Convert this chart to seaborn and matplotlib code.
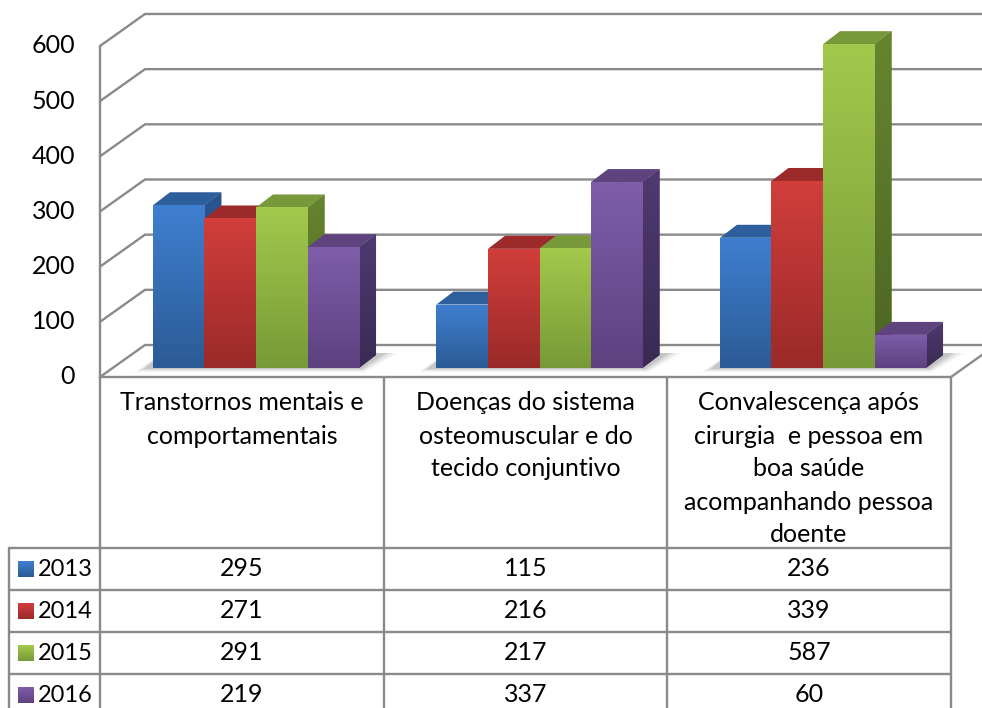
import numpy as np
import pandas as pd
import matplotlib
matplotlib.use("Agg")
import matplotlib.pyplot as plt
from matplotlib.patches import Polygon
from matplotlib.colors import LinearSegmentedColormap
import seaborn as sns

# ---- data -------------------------------------------------------------
categories = [
    "Transtornos mentais e\ncomportamentais",
    "Doenças do sistema\nosteomuscular e do\ntecido conjuntivo",
    "Convalescença após\ncirurgia  e pessoa em\nboa saúde\nacompanhando pessoa\ndoente",
]
years = ["2013", "2014", "2015", "2016"]
v2013 = [295, 115, 236]
v2014 = [271, 216, 339]
v2015 = [291, 217, 587]
v2016 = [219, 337, 60]
y_ticks = [0, 100, 200, 300, 400, 500, 600]

series = {"2013": v2013, "2014": v2014, "2015": v2015, "2016": v2016}
df = pd.DataFrame(
    [(c, y, v) for y in years for c, v in zip(categories, series[y])],
    columns=["categoria", "ano", "valor"],
)

# ---- styling ----------------------------------------------------------
front_top = {"2013": "#3f7fd0", "2014": "#d13e3b", "2015": "#a2c94c", "2016": "#7f5daa"}
front_bot = {"2013": "#2c5b96", "2014": "#9a2a29", "2015": "#779a37", "2016": "#5d4180"}
top_face = {"2013": "#2d5f9d", "2014": "#9c2a2a", "2015": "#78993a", "2016": "#5f437f"}
side_top = {"2013": "#2a5690", "2014": "#8a2625", "2015": "#67852f", "2016": "#4f3a70"}
side_bot = {"2013": "#1f4170", "2014": "#6d1e1d", "2015": "#4d6424", "2016": "#3a2a52"}
line_col = "#8a8a8a"
font = ["Lato", "DejaVu Sans"]
fs = 18

W, H = 982, 708
K = 0.5517            # pixels per unit of value
GX0, GSTEP = 256, 283.5  # pixel centre of first cluster, cluster spacing
BASE_Y = 368          # pixel row of value 0 in the bar plane
FRONT_Y, LEFT_X, RIGHT_X = 377, 100, 951
DEPTH = (45, -32)     # wall depth offset in pixels
BAR_D = (17, -13)     # bar depth offset in pixels

sns.set_theme(style="white")
plt.rcParams["font.family"] = font

fig = plt.figure(figsize=(W / 100, H / 100), dpi=100)
fig.patch.set_facecolor("white")

# pixel-space axes for walls, gridlines and the data table
bg = fig.add_axes([0, 0, 1, 1], zorder=0)
bg.set_xlim(0, W)
bg.set_ylim(H, 0)
bg.axis("off")

# value-space axes for the bars
ax = fig.add_axes([0, 0, 1, 1], zorder=1)
ax.set_facecolor("none")

sns.barplot(
    data=df, x="categoria", y="valor", hue="ano", hue_order=years,
    order=categories, palette=[front_top[y] for y in years],
    width=0.727, gap=0, saturation=1, linewidth=0, legend=False, ax=ax,
)

xlim = (-GX0 / GSTEP, (W - GX0) / GSTEP)
ylim = (-(H - BASE_Y) / K, BASE_Y / K)
ax.set_xlim(*xlim)
ax.set_ylim(*ylim)
ax.axis("off")

ddx = BAR_D[0] / GSTEP
ddy = -BAR_D[1] / K

# ---- walls & gridlines --------------------------------------------------
lw = 1.7
for v in y_ticks:
    yf = FRONT_Y - K * v
    yb = yf + DEPTH[1]
    bg.plot([LEFT_X, LEFT_X + DEPTH[0], RIGHT_X + DEPTH[0]], [yf, yb, yb],
            color=line_col, lw=lw, solid_joinstyle="miter", zorder=1)
    bg.text(75, yf, str(v), ha="right", va="center", fontsize=fs,
            family=font, color="black")
bg.plot([LEFT_X, LEFT_X], [FRONT_Y - K * y_ticks[-1], FRONT_Y],
        color=line_col, lw=lw, zorder=1)
bg.plot([LEFT_X, RIGHT_X, RIGHT_X + DEPTH[0]],
        [FRONT_Y, FRONT_Y, FRONT_Y + DEPTH[1]],
        color=line_col, lw=lw, zorder=1)

# ---- bars: gradients, tops, sides, floor shadow ------------------------
to_px = ax.transData + bg.transData.inverted()
bars = sorted(ax.patches, key=lambda p: p.get_x())
year_of = {}
for yi, y in enumerate(years):
    for p in ax.patches[yi * len(categories):(yi + 1) * len(categories)]:
        year_of[id(p)] = y

grad = np.linspace(0, 1, 128).reshape(-1, 1)

def gradient_fill(c_top, c_bot, extent, clip, z):
    cmap = LinearSegmentedColormap.from_list("g", [c_top, c_bot])
    im = ax.imshow(grad, extent=extent, cmap=cmap, aspect="auto",
                   interpolation="bilinear", zorder=z)
    im.set_clip_path(clip)

# soft floor shadow under each cluster
n_hue = len(years)
for g in range(len(categories)):
    grp = bars[g * n_hue:(g + 1) * n_hue]
    x0 = grp[0].get_x()
    x1 = grp[-1].get_x() + grp[-1].get_width()
    (px0, py0) = to_px.transform((x0, 0))
    (px1, _) = to_px.transform((x1, 0))
    for k, a in enumerate([0.05, 0.07, 0.09, 0.12]):
        s = 4 - k
        poly = Polygon(
            [(px0 - 18 + 3 * k, py0 + s), (px1 + 6 - k, py0 + s),
             (px1 + BAR_D[0] + 22 - 4 * k, py0 + BAR_D[1] - 2),
             (px0 + 10, py0 + BAR_D[1] - 2)],
            closed=True, facecolor="#404040", edgecolor="none", alpha=a, zorder=2)
        bg.add_patch(poly)

for i, p in enumerate(bars):
    y = year_of[id(p)]
    x0, w, h = p.get_x(), p.get_width(), p.get_height()
    x1 = x0 + w
    base = 10 + 4 * i
    side = Polygon([(x1, 0), (x1, h), (x1 + ddx, h + ddy), (x1 + ddx, ddy)],
                   closed=True, facecolor=side_top[y], edgecolor="none", zorder=base)
    ax.add_patch(side)
    gradient_fill(side_top[y], side_bot[y], (x1, x1 + ddx, 0, h + ddy), side, base + 0.5)
    top = Polygon([(x0, h), (x1, h), (x1 + ddx, h + ddy), (x0 + ddx, h + ddy)],
                  closed=True, facecolor=top_face[y], edgecolor="none", zorder=base + 1)
    ax.add_patch(top)
    p.set_zorder(base + 2)
    gradient_fill(front_top[y], front_bot[y], (x0, x1, 0, h), p, base + 2.5)

ax.set_xlim(*xlim)
ax.set_ylim(*ylim)

# ---- data table ---------------------------------------------------------
col_x = [LEFT_X, 384, 667, RIGHT_X]
head_bot = 548
row_h = 42
rows_y = [head_bot + row_h * r for r in range(len(years) + 1)]
key_left = 9

for cx in col_x:
    bg.plot([cx, cx], [FRONT_Y, H + 10], color=line_col, lw=lw, zorder=1)
bg.plot([key_left, key_left], [head_bot, H + 10], color=line_col, lw=lw, zorder=1)
for ry in rows_y:
    bg.plot([key_left, RIGHT_X], [ry, ry], color=line_col, lw=lw, zorder=1)

line_step = 33
for ci, cat in enumerate(categories):
    cx = (col_x[ci] + col_x[ci + 1]) / 2
    for li, txt in enumerate(cat.split("\n")):
        bg.text(cx, 403 + li * line_step, txt, ha="center", va="center",
                fontsize=fs, family=font, color="black")

for r, y in enumerate(years):
    cy = (rows_y[r] + rows_y[r + 1]) / 2
    key = Polygon([(18, cy - 8), (34, cy - 8), (34, cy + 8), (18, cy + 8)],
                  closed=True, facecolor=front_top[y], edgecolor="none", zorder=3)
    bg.add_patch(key)
    key_grad = LinearSegmentedColormap.from_list("k", [front_top[y], front_bot[y]])
    kim = bg.imshow(grad, extent=(18, 34, cy + 8, cy - 8), cmap=key_grad,
                    aspect="auto", zorder=4)
    kim.set_clip_path(key)
    bg.text(38, cy, y, ha="left", va="center", fontsize=fs - 1, family=font,
            color="black")
    for ci, v in enumerate(series[y]):
        cx = (col_x[ci] + col_x[ci + 1]) / 2
        bg.text(cx, cy, str(v), ha="center", va="center", fontsize=fs,
                family=font, color="black")

bg.set_xlim(0, W)
bg.set_ylim(H, 0)

fig.savefig("out.png", dpi=100)
